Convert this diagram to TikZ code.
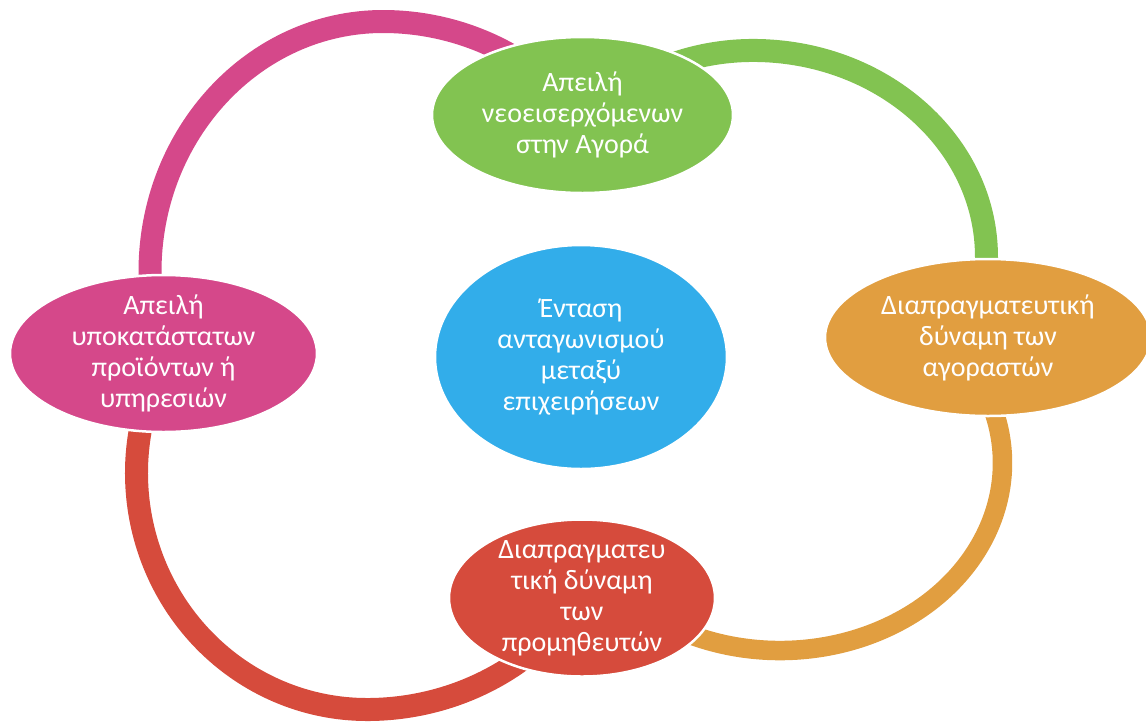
\documentclass[tikz,border=0pt]{standalone}
\usepackage{fontspec}
\setmainfont{Carlito}
\usetikzlibrary{shapes.geometric}

\definecolor{cPink}{HTML}{D5488A}
\definecolor{cGreen}{HTML}{82C351}
\definecolor{cOrange}{HTML}{E19E40}
\definecolor{cRed}{HTML}{D64B3C}
\definecolor{cBlue}{HTML}{32ADEA}

\begin{document}
\begin{tikzpicture}[x=1pt,y=-1pt,
  bubble/.style={ellipse, draw=white, line width=2.5pt, inner sep=0pt},
  label/.style={text=white, align=center, inner sep=0pt,
                font=\fontsize{28}{31}\selectfont},
  link/.style={line width=23pt}]
\useasboundingbox (0,0) rectangle (1146,721);

% ring segments, laid under the bubbles
\coordinate (pinkArcStart)   at (150,290);
\coordinate (greenArcStart)  at (657.9,69.8);
\coordinate (orangeArcStart) at (981.6,383.8);
\coordinate (redArcStart)    at (144.35,411.8);

\draw[link, draw=cPink] (pinkArcStart) -- ++(0,-18)
  arc[start angle=180, end angle=270, x radius=233, y radius=250.5]
  arc[start angle=270, end angle=305, x radius=255, y radius=250.5];

\draw[link, draw=cGreen] (greenArcStart)
  arc[start angle=245, end angle=270, x radius=225, y radius=206.5]
  arc[start angle=270, end angle=360, x radius=233.5, y radius=206.5]
  -- ++(0,25);

\draw[link, line width=19.5pt, draw=cOrange] (orangeArcStart)
  arc[start angle=-25, end angle=120, x radius=222.5, y radius=187.5];

\draw[link, draw=cRed] (redArcStart)
  arc[start angle=195, end angle=90, x radius=230.5, y radius=236.5]
  arc[start angle=90, end angle=45, x radius=252, y radius=236.5];

% the five forces
\node[bubble, fill=cGreen, minimum width=301pt, minimum height=156pt]
  (entrants) at (582.5,115) {};
\node[label] (entrantsText) at (entrants.center)
  {Απειλή\\νεοεισερχόμενων\\στην Αγορά};

\node[bubble, fill=cPink, minimum width=307pt, minimum height=157pt]
  (substitutes) at (163.5,353.5) {};
\node[label] (substitutesText) at (substitutes.center)
  {Απειλή\\υποκατάστατων\\προϊόντων ή\\υπηρεσιών};

\node[bubble, fill=cBlue, minimum width=292pt, minimum height=224pt]
  (rivalry) at (581,357) {};
\node[label] (rivalryText) at (rivalry.center)
  {Ένταση\\ανταγωνισμού\\μεταξύ\\επιχειρήσεων};

\node[bubble, fill=cOrange, minimum width=326pt, minimum height=157pt]
  (buyers) at (988,337.5) {};
\node[label] (buyersText) at (buyers.center)
  {Διαπραγματευτική\\δύναμη των\\αγοραστών};

\node[bubble, fill=cRed, minimum width=266pt, minimum height=157pt]
  (suppliers) at (582,598) {};
\node[label] (suppliersText) at (suppliers.center)
  {Διαπραγματευ\\τική δύναμη\\των\\προμηθευτών};
\end{tikzpicture}
\end{document}
